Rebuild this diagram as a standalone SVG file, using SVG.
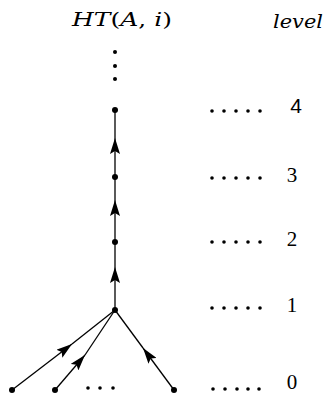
<svg xmlns="http://www.w3.org/2000/svg" width="326" height="394" viewBox="0 0 326 394">
<style>
.t{font-family:'Liberation Serif','DejaVu Serif',serif;font-size:21px;fill:#000}
.m{font-family:'DejaVu Serif','Liberation Serif',serif;font-size:19px;fill:#000}
.s{font-family:'Liberation Sans','DejaVu Sans',sans-serif;font-size:21px;fill:#000}
.i{font-style:italic}
.e{stroke:#000;stroke-width:1.3;fill:none}
.n{fill:#000}
.d{fill:#000}
</style>
<defs>
<marker id="ah" viewBox="0 0 16 10" refX="16" refY="5" markerWidth="16" markerHeight="10" markerUnits="userSpaceOnUse" orient="auto">
<path d="M0,0 L16,5 L0,10 L3,5 Z" fill="#000"/>
</marker>
</defs>
<rect width="326" height="394" fill="#fff"/>
<text class="m" x="72" y="26" textLength="100" lengthAdjust="spacingAndGlyphs"><tspan class="i">HT</tspan>(<tspan class="i">A</tspan>, <tspan class="i">i</tspan>)</text>
<text class="m i" x="273" y="28" textLength="50" lengthAdjust="spacingAndGlyphs">level</text>
<g id="vdots"><circle class="d" cx="115" cy="52" r="2"/><circle class="d" cx="115" cy="66" r="2"/><circle class="d" cx="115" cy="79" r="2"/></g>
<g id="connectors">
<path class="e" d="M115,177 L115,138" marker-end="url(#ah)"/><path class="e" d="M115,138 L115,110"/>
<path class="e" d="M115,242 L115,200" marker-end="url(#ah)"/><path class="e" d="M115,200 L115,177"/>
<path class="e" d="M115,310 L115,267" marker-end="url(#ah)"/><path class="e" d="M115,267 L115,242"/>
<path class="e" d="M12,390 L72,344" marker-end="url(#ah)"/><path class="e" d="M72,344 L115,310"/>
<path class="e" d="M55,390 L85,355" marker-end="url(#ah)"/><path class="e" d="M85,355 L115,310"/>
<path class="e" d="M174,390 L143,348" marker-end="url(#ah)"/><path class="e" d="M143,348 L115,310"/>
</g>
<g id="n4"><circle class="n" cx="115" cy="110" r="3"/></g>
<g id="n3"><circle class="n" cx="115" cy="177" r="3"/></g>
<g id="n2"><circle class="n" cx="115" cy="242" r="3"/></g>
<g id="n1"><circle class="n" cx="115" cy="310" r="3"/></g>
<g id="l0a"><circle class="n" cx="12" cy="390" r="3"/></g>
<g id="l0b"><circle class="n" cx="55" cy="390" r="3"/></g>
<g id="l0c"><circle class="n" cx="174" cy="390" r="3"/></g>
<g id="ell"><circle class="d" cx="88" cy="388" r="1.8"/><circle class="d" cx="100" cy="388" r="1.8"/><circle class="d" cx="113" cy="388" r="1.8"/></g>
<g id="levels">
<g fill="#000"><circle cx="212" cy="111" r="1.8"/><circle cx="224" cy="111" r="1.8"/><circle cx="236" cy="111" r="1.8"/><circle cx="248" cy="111" r="1.8"/><circle cx="260" cy="111" r="1.8"/></g>
<text class="s" x="296" y="113" text-anchor="middle">4</text>
<g fill="#000"><circle cx="212" cy="178" r="1.8"/><circle cx="224" cy="178" r="1.8"/><circle cx="236" cy="178" r="1.8"/><circle cx="248" cy="178" r="1.8"/><circle cx="260" cy="178" r="1.8"/></g>
<text class="t" x="292" y="182" text-anchor="middle">3</text>
<g fill="#000"><circle cx="212" cy="242" r="1.8"/><circle cx="224" cy="242" r="1.8"/><circle cx="236" cy="242" r="1.8"/><circle cx="248" cy="242" r="1.8"/><circle cx="260" cy="242" r="1.8"/></g>
<text class="t" x="292" y="246" text-anchor="middle">2</text>
<g fill="#000"><circle cx="212" cy="308" r="1.8"/><circle cx="224" cy="308" r="1.8"/><circle cx="236" cy="308" r="1.8"/><circle cx="248" cy="308" r="1.8"/><circle cx="260" cy="308" r="1.8"/></g>
<text class="t" x="292" y="312" text-anchor="middle">1</text>
<g fill="#000"><circle cx="213" cy="389" r="1.8"/><circle cx="225" cy="389" r="1.8"/><circle cx="237" cy="389" r="1.8"/><circle cx="248" cy="389" r="1.8"/><circle cx="259" cy="389" r="1.8"/></g>
<text class="t" x="292" y="389" text-anchor="middle">0</text>
</g>
</svg>
